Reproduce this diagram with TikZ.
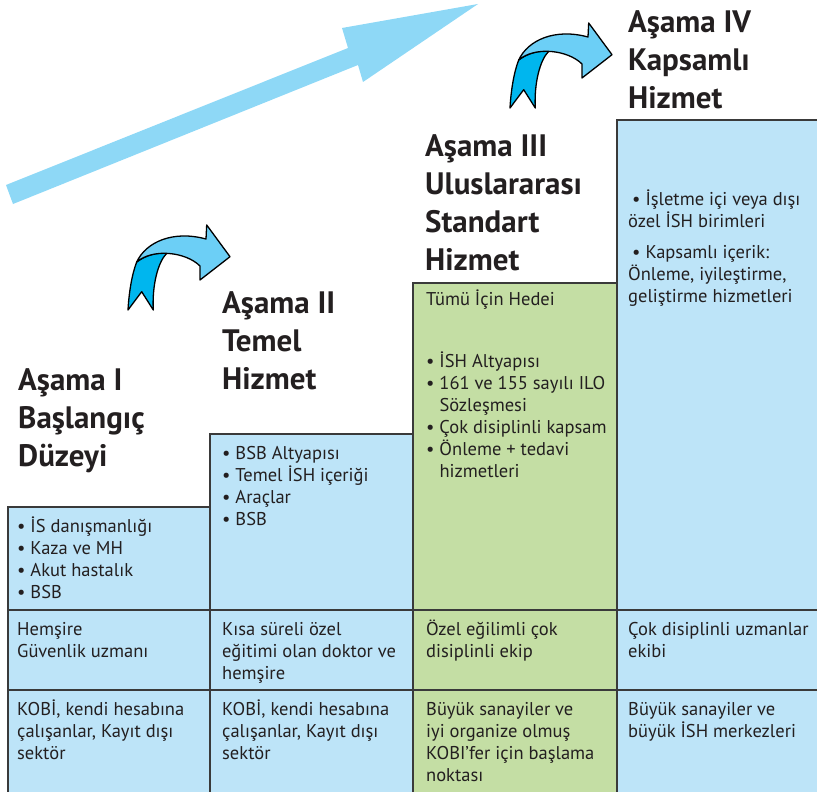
\documentclass[tikz,border=0pt]{standalone}
\usepackage{fontspec}
\setmainfont{PT Sans}
\definecolor{cellblue}{HTML}{BDE4F8}
\definecolor{cellgreen}{HTML}{C4DEA4}
\definecolor{linegray}{HTML}{3A3A3A}
\definecolor{bigarrow}{HTML}{8ED8F6}
\definecolor{arrowlight}{HTML}{6CCFF6}
\definecolor{arrowdark}{HTML}{00B6EE}
\definecolor{txt}{HTML}{231F20}
\begin{document}
\begin{tikzpicture}[x=1pt,y=-1pt,
  cellline/.style={draw=linegray, line width=1.6pt},
  title/.style={font=\fontsize{31}{38}\selectfont\bfseries, text=txt, anchor=base west, inner sep=0pt, align=left},
  body/.style={font=\fontsize{18.5}{22}\selectfont, text=txt, anchor=base west, inner sep=0pt, align=left},
  curlarrow/.pic={
    \filldraw[fill=arrowdark, draw=black, line width=1.3pt, line join=round]
      (0,0) .. controls (1,-18) and (4,-36) .. (8.7,-48)
      .. controls (18,-55) and (30,-58) .. (38.7,-56.7)
      .. controls (30,-48) and (24,-25) .. (25.3,0)
      -- (13.7,-18.3) -- cycle;
    \filldraw[fill=arrowlight, draw=black, line width=1.3pt, line join=round]
      (8.7,-48) .. controls (18,-68) and (45,-80) .. (78,-71)
      -- (78.7,-85) -- (102,-53.3) -- (72,-30) -- (72,-44)
      .. controls (58,-58) and (25,-62) .. (8.7,-48) -- cycle;
  }]
\useasboundingbox (0,0) rectangle (817,792);
% cells
\fill[cellblue] (8,507) rectangle (210,793);
\fill[cellblue] (210,434) rectangle (413,793);
\fill[cellgreen] (413,283) rectangle (617,793);
\fill[cellblue] (617,120) rectangle (820,793);
\foreach \xa/\xb/\yt in {8/210/507, 210/413/434, 413/617/283, 617/820/120} {
  \draw[cellline] (\xa,794) -- (\xa,\yt) -- (\xb,\yt) -- (\xb,794);
  \draw[cellline] (\xa,610) -- (\xb,610);
  \draw[cellline] (\xa,690) -- (\xb,690);
}
% big arrow
\fill[bigarrow] (6,185) -- (348,48) -- (342,28) -- (478,4) -- (363,82) -- (358,65) -- (13,204) -- cycle;
% curled arrows
\pic at (128,310) {curlarrow};
\pic at (510,108) {curlarrow};
% titles (anchored at the baseline of their last line)
\node[title] (t1) at (18,466) {Aşama I\\Başlangıç\\Düzeyi};
\node[title] (t2) at (222,389) {Aşama II\\Temel\\Hizmet};
\node[title] (t3) at (425,270) {Aşama III\\Uluslararası\\Standart\\Hizmet};
\node[title] (t4) at (628,108) {Aşama IV\\Kapsamlı\\Hizmet};
% column 1
\node[body] (c1a) at (17,598) {• İS danışmanlığı\\• Kaza ve MH\\• Akut hastalık\\• BSB};
\node[body] (c1b) at (17,657) {Hemşire\\Güvenlik uzmanı};
\node[body] (c1c) at (17,759) {KOBİ, kendi hesabına\\çalışanlar, Kayıt dışı\\sektör};
% column 2
\node[body] (c2a) at (222,525) {• BSB Altyapısı\\• Temel İSH içeriği\\• Araçlar\\• BSB};
\node[body] (c2b) at (222,679) {Kısa süreli özel\\eğitimi olan doktor ve\\hemşire};
\node[body] (c2c) at (222,759) {KOBİ, kendi hesabına\\çalışanlar, Kayıt dışı\\sektör};
% column 3
\node[body] (c3h) at (426,305) {Tümü İçin Hedei};
\node[body] (c3a) at (426,477) {• İSH Altyapısı\\• 161 ve 155 sayılı ILO\\\hphantom{• }Sözleşmesi\\• Çok disiplinli kapsam\\• Önleme + tedavi\\\hphantom{• }hizmetleri};
\node[body] (c3b) at (426,657) {Özel eğilimli çok\\disiplinli ekip};
\node[body] (c3c) at (426,781) {Büyük sanayiler ve\\iyi organize olmuş\\KOBI’fer için başlama\\noktası};
% column 4
\node[body] (c4a) at (628,302) {\hspace*{4pt}• İşletme içi veya dışı\\özel İSH birimleri\\[9pt]\hspace*{4pt}• Kapsamlı içerik:\\Önleme, iyileştirme,\\geliştirme hizmetleri};
\node[body] (c4b) at (628,657) {Çok disiplinli uzmanlar\\ekibi};
\node[body] (c4c) at (628,737) {Büyük sanayiler ve\\büyük İSH merkezleri};
\end{tikzpicture}
\end{document}
